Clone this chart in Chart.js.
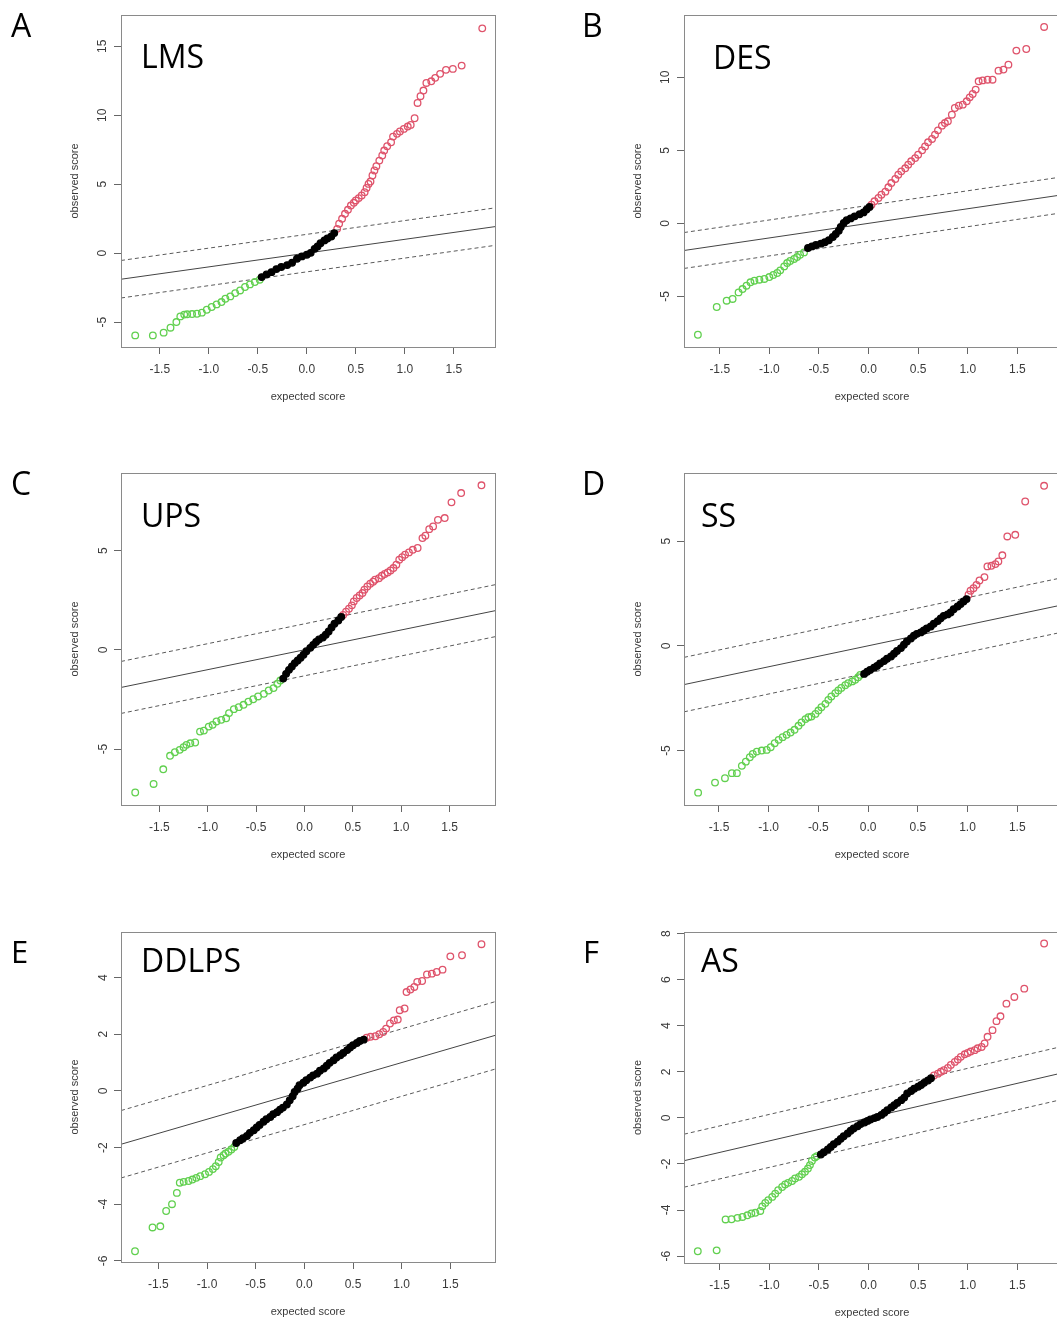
<!DOCTYPE html>
<html>
<head>
<meta charset="utf-8">
<script src="https://cdn.jsdelivr.net/npm/chart.js@4.4.1/dist/chart.umd.min.js"></script>
<style>
  html, body { margin: 0; padding: 0; background: #fff; overflow: hidden; width: 1057px; height: 1320px; }
  canvas { position: absolute; }
</style>
</head>
<body>
<canvas id="pA"></canvas>
<canvas id="pB"></canvas>
<canvas id="pC"></canvas>
<canvas id="pD"></canvas>
<canvas id="pE"></canvas>
<canvas id="pF"></canvas>
<script>
// SAM plots, observed vs expected score, one panel per sarcoma type
const xTicks = [-1.5, -1, -0.5, 0, 0.5, 1, 1.5];
const yTicksLMS = [-5, 0, 5, 10, 15];
const yTicksDES = [-5, 0, 5, 10];
const yTicksUPS = [-5, 0, 5];
const yTicksSS = [-5, 0, 5];
const yTicksDDLPS = [-6, -4, -2, 0, 2, 4];
const yTicksAS = [-6, -4, -2, 0, 2, 4, 6, 8];

// axis limits per panel: LMS, DES, UPS, SS, DDLPS, AS
const xMin = [-1.895, -1.86, -1.897, -1.852, -1.884, -1.859];
const xMax = [1.92, 1.93, 1.97, 1.93, 1.959, 1.93];
const yMin = [-6.81, -8.47, -7.82, -7.60, -6.04, -6.30];
const yMax = [17.27, 14.27, 8.91, 8.25, 5.61, 8.07];

// half width of the dashed band around y = x
const deltas = [1.36, 1.23, 1.31, 1.30, 1.19, 1.15];

const lmsGreen = [[-1.75,-5.97],[-1.57,-5.97],[-1.46,-5.77],[-1.39,-5.41],[-1.33,-5.00],[-1.29,-4.59],[-1.25,-4.46],[-1.22,-4.44],[-1.17,-4.42],[-1.12,-4.40],[-1.07,-4.32],[-1.02,-4.11],[-0.97,-3.91],[-0.92,-3.72],[-0.87,-3.55],[-0.83,-3.31],[-0.78,-3.14],[-0.73,-2.90],[-0.68,-2.71],[-0.63,-2.46],[-0.58,-2.27],[-0.53,-2.10],[-0.48,-1.93]];
const lmsBlack = [[-0.46,-1.74],[-0.41,-1.55],[-0.36,-1.38],[-0.31,-1.16],[-0.26,-1.01],[-0.20,-0.87],[-0.15,-0.70],[-0.10,-0.41],[-0.05,-0.24],[0.00,-0.12],[0.04,0.02],[0.08,0.31],[0.11,0.48],[0.14,0.72],[0.18,0.92],[0.21,1.06],[0.25,1.21],[0.28,1.45]];
const lmsRed = [[0.31,1.76],[0.33,2.13],[0.36,2.49],[0.39,2.85],[0.42,3.14],[0.45,3.45],[0.48,3.65],[0.50,3.82],[0.53,3.99],[0.56,4.18],[0.59,4.42],[0.61,4.73],[0.63,5.02],[0.65,5.19],[0.67,5.63],[0.69,5.99],[0.71,6.30],[0.74,6.71],[0.77,7.08],[0.79,7.44],[0.82,7.75],[0.86,8.04],[0.88,8.45],[0.92,8.65],[0.95,8.82],[0.99,9.01],[1.03,9.18],[1.06,9.30],[1.10,9.78],[1.13,10.89],[1.16,11.38],[1.19,11.79],[1.22,12.34],[1.27,12.46],[1.31,12.71],[1.36,13.00],[1.42,13.29],[1.49,13.36],[1.58,13.60],[1.79,16.30]];

const desGreen = [[-1.72,-7.63],[-1.53,-5.73],[-1.43,-5.30],[-1.37,-5.18],[-1.31,-4.73],[-1.27,-4.50],[-1.23,-4.27],[-1.19,-4.04],[-1.15,-3.93],[-1.10,-3.86],[-1.05,-3.81],[-1.00,-3.68],[-0.96,-3.54],[-0.92,-3.40],[-0.89,-3.22],[-0.85,-2.95],[-0.82,-2.72],[-0.79,-2.58],[-0.75,-2.44],[-0.72,-2.31],[-0.69,-2.15],[-0.65,-1.99]];
const desBlack = [[-0.61,-1.69],[-0.57,-1.58],[-0.53,-1.48],[-0.48,-1.39],[-0.44,-1.30],[-0.40,-1.16],[-0.36,-0.94],[-0.33,-0.73],[-0.30,-0.50],[-0.28,-0.25],[-0.25,0.02],[-0.22,0.21],[-0.18,0.34],[-0.14,0.48],[-0.09,0.62],[-0.05,0.75],[-0.02,0.94],[0.01,1.12]];
const desRed = [[0.03,1.28],[0.06,1.51],[0.10,1.74],[0.13,1.96],[0.17,2.17],[0.20,2.47],[0.23,2.76],[0.27,3.04],[0.30,3.33],[0.33,3.56],[0.37,3.77],[0.40,4.02],[0.43,4.25],[0.47,4.47],[0.50,4.70],[0.54,5.00],[0.57,5.27],[0.60,5.55],[0.64,5.78],[0.67,6.07],[0.70,6.37],[0.74,6.69],[0.77,6.87],[0.80,6.99],[0.84,7.44],[0.87,7.90],[0.91,8.06],[0.95,8.13],[0.99,8.36],[1.02,8.63],[1.05,8.86],[1.08,9.16],[1.11,9.73],[1.15,9.79],[1.20,9.84],[1.25,9.84],[1.31,10.46],[1.36,10.53],[1.41,10.87],[1.49,11.83],[1.59,11.94],[1.77,13.45]];

const upsGreen = [[-1.75,-7.19],[-1.56,-6.76],[-1.46,-6.02],[-1.39,-5.34],[-1.34,-5.16],[-1.29,-5.04],[-1.25,-4.91],[-1.22,-4.79],[-1.18,-4.71],[-1.13,-4.67],[-1.08,-4.12],[-1.04,-4.07],[-0.99,-3.87],[-0.95,-3.78],[-0.91,-3.61],[-0.86,-3.53],[-0.81,-3.45],[-0.78,-3.19],[-0.73,-2.99],[-0.68,-2.89],[-0.63,-2.77],[-0.58,-2.61],[-0.53,-2.49],[-0.48,-2.35],[-0.42,-2.22],[-0.37,-2.05],[-0.32,-1.93],[-0.28,-1.71],[-0.25,-1.55]];
const upsBlack = [[-0.22,-1.45],[-0.19,-1.21],[-0.16,-1.01],[-0.13,-0.84],[-0.10,-0.67],[-0.07,-0.54],[-0.04,-0.40],[-0.01,-0.25],[0.02,-0.07],[0.06,0.10],[0.09,0.25],[0.12,0.40],[0.15,0.52],[0.19,0.62],[0.22,0.76],[0.25,0.92],[0.28,1.13],[0.31,1.31],[0.35,1.48],[0.38,1.65]];
const upsRed = [[0.40,1.76],[0.43,1.92],[0.46,2.07],[0.49,2.24],[0.51,2.44],[0.54,2.61],[0.57,2.74],[0.60,2.86],[0.62,3.03],[0.65,3.19],[0.68,3.33],[0.71,3.43],[0.73,3.53],[0.77,3.61],[0.80,3.73],[0.83,3.82],[0.86,3.90],[0.89,4.00],[0.92,4.12],[0.95,4.29],[0.98,4.54],[1.01,4.67],[1.04,4.79],[1.08,4.91],[1.12,5.04],[1.17,5.13],[1.22,5.63],[1.25,5.75],[1.29,6.08],[1.33,6.22],[1.38,6.55],[1.45,6.64],[1.52,7.43],[1.62,7.90],[1.83,8.29]];

const ssGreen = [[-1.71,-7.01],[-1.54,-6.53],[-1.44,-6.32],[-1.37,-6.08],[-1.32,-6.08],[-1.27,-5.73],[-1.23,-5.53],[-1.19,-5.32],[-1.16,-5.16],[-1.12,-5.05],[-1.07,-5.00],[-1.02,-4.97],[-0.98,-4.84],[-0.94,-4.65],[-0.90,-4.49],[-0.86,-4.36],[-0.82,-4.25],[-0.78,-4.14],[-0.74,-4.01],[-0.70,-3.82],[-0.67,-3.66],[-0.63,-3.50],[-0.60,-3.41],[-0.57,-3.38],[-0.53,-3.25],[-0.50,-3.09],[-0.47,-2.93],[-0.43,-2.77],[-0.40,-2.58],[-0.37,-2.42],[-0.33,-2.26],[-0.30,-2.13],[-0.27,-2.01],[-0.23,-1.88],[-0.20,-1.78],[-0.16,-1.70],[-0.13,-1.62],[-0.10,-1.50],[-0.08,-1.39]];
const ssBlack = [[-0.04,-1.34],[-0.01,-1.24],[0.02,-1.15],[0.06,-1.05],[0.09,-0.96],[0.12,-0.84],[0.16,-0.73],[0.19,-0.62],[0.23,-0.51],[0.26,-0.38],[0.29,-0.25],[0.33,-0.11],[0.36,0.05],[0.39,0.21],[0.43,0.35],[0.46,0.48],[0.49,0.57],[0.53,0.64],[0.56,0.73],[0.59,0.83],[0.63,0.92],[0.66,1.05],[0.70,1.18],[0.73,1.31],[0.76,1.43],[0.80,1.50],[0.83,1.59],[0.86,1.75],[0.90,1.88],[0.93,1.99],[0.96,2.12],[0.99,2.23]];
const ssRed = [[1.01,2.44],[1.03,2.63],[1.06,2.75],[1.09,2.91],[1.12,3.12],[1.17,3.28],[1.20,3.79],[1.24,3.82],[1.28,3.90],[1.31,4.03],[1.35,4.32],[1.40,5.22],[1.48,5.30],[1.58,6.89],[1.77,7.64]];

const ddlpsGreen = [[-1.74,-5.66],[-1.56,-4.82],[-1.48,-4.78],[-1.42,-4.24],[-1.36,-4.00],[-1.31,-3.60],[-1.28,-3.24],[-1.24,-3.21],[-1.19,-3.18],[-1.15,-3.13],[-1.11,-3.07],[-1.07,-3.01],[-1.02,-2.94],[-0.98,-2.86],[-0.94,-2.76],[-0.91,-2.66],[-0.88,-2.51],[-0.86,-2.35],[-0.83,-2.27],[-0.81,-2.21],[-0.78,-2.15],[-0.75,-2.07],[-0.72,-1.98]];
const ddlpsBlack = [[-0.70,-1.84],[-0.66,-1.74],[-0.63,-1.67],[-0.59,-1.59],[-0.56,-1.48],[-0.52,-1.39],[-0.49,-1.29],[-0.46,-1.20],[-0.42,-1.09],[-0.39,-1.00],[-0.35,-0.92],[-0.32,-0.82],[-0.28,-0.75],[-0.25,-0.66],[-0.22,-0.59],[-0.18,-0.48],[-0.15,-0.33],[-0.12,-0.19],[-0.10,-0.04],[-0.07,0.08],[-0.05,0.20],[-0.01,0.29],[0.02,0.38],[0.06,0.47],[0.09,0.55],[0.13,0.61],[0.16,0.71],[0.20,0.79],[0.23,0.89],[0.26,0.99],[0.30,1.08],[0.33,1.18],[0.37,1.26],[0.40,1.34],[0.44,1.44],[0.47,1.53],[0.50,1.61],[0.54,1.69],[0.57,1.76],[0.61,1.81]];
const ddlpsRed = [[0.64,1.88],[0.68,1.91],[0.73,1.93],[0.77,2.00],[0.81,2.08],[0.84,2.20],[0.88,2.38],[0.92,2.49],[0.96,2.52],[0.98,2.85],[1.03,2.91],[1.05,3.49],[1.09,3.58],[1.13,3.67],[1.16,3.85],[1.21,3.88],[1.26,4.11],[1.31,4.14],[1.36,4.20],[1.42,4.28],[1.50,4.75],[1.62,4.79],[1.82,5.18]];

const asGreen = [[-1.72,-5.79],[-1.53,-5.75],[-1.44,-4.41],[-1.38,-4.40],[-1.32,-4.34],[-1.27,-4.30],[-1.22,-4.23],[-1.18,-4.15],[-1.14,-4.12],[-1.09,-4.04],[-1.07,-3.84],[-1.04,-3.69],[-1.01,-3.57],[-0.97,-3.43],[-0.94,-3.29],[-0.91,-3.14],[-0.87,-3.00],[-0.84,-2.89],[-0.81,-2.82],[-0.77,-2.74],[-0.74,-2.63],[-0.70,-2.56],[-0.67,-2.45],[-0.64,-2.34],[-0.61,-2.20],[-0.59,-2.05],[-0.57,-1.87],[-0.54,-1.72],[-0.52,-1.66]];
const asBlack = [[-0.48,-1.59],[-0.45,-1.49],[-0.41,-1.37],[-0.38,-1.26],[-0.35,-1.14],[-0.31,-1.03],[-0.28,-0.91],[-0.25,-0.80],[-0.21,-0.68],[-0.18,-0.56],[-0.15,-0.46],[-0.11,-0.36],[-0.08,-0.27],[-0.04,-0.20],[-0.01,-0.13],[0.02,-0.07],[0.06,-0.01],[0.09,0.04],[0.13,0.13],[0.16,0.22],[0.19,0.33],[0.23,0.45],[0.26,0.55],[0.29,0.65],[0.33,0.77],[0.36,0.88],[0.39,1.06],[0.43,1.17],[0.46,1.27],[0.50,1.35],[0.53,1.43],[0.56,1.52],[0.60,1.62],[0.63,1.72]];
const asRed = [[0.66,1.84],[0.70,1.92],[0.73,2.00],[0.76,2.07],[0.80,2.17],[0.83,2.30],[0.87,2.43],[0.90,2.53],[0.93,2.65],[0.97,2.76],[1.00,2.82],[1.03,2.88],[1.07,2.94],[1.10,3.02],[1.14,3.08],[1.17,3.23],[1.20,3.52],[1.25,3.81],[1.29,4.20],[1.33,4.41],[1.39,4.96],[1.47,5.25],[1.57,5.61],[1.77,7.57]];

const GREEN = "#61D04F";
const RED = "#DF536B";
const TICK_FONT = { family: "'Liberation Sans', Arial, sans-serif", size: 12 };
const TITLE_FONT = { family: "'Liberation Sans', Arial, sans-serif", size: 11 };
const LABEL_FAMILY = "'Open Sans', 'Noto Sans', sans-serif";

// layout: box = [left, top, width, height] of the plot frame on the page
const panels = [
  { id: "pA", letter: "A", name: "LMS", green: lmsGreen, black: lmsBlack, red: lmsRed, yTicks: yTicksLMS,
    box: [121, 15, 374, 332], left: 0, letterAt: [11, 36.5, 32], nameAt: [141, 67.5] },
  { id: "pB", letter: "B", name: "DES", green: desGreen, black: desBlack, red: desRed, yTicks: yTicksDES,
    box: [684, 15, 376, 332], left: 570, letterAt: [582, 36.7, 32], nameAt: [713, 68.5] },
  { id: "pC", letter: "C", name: "UPS", green: upsGreen, black: upsBlack, red: upsRed, yTicks: yTicksUPS,
    box: [121, 473, 374, 332], left: 0, letterAt: [11, 495, 32], nameAt: [141, 527] },
  { id: "pD", letter: "D", name: "SS", green: ssGreen, black: ssBlack, red: ssRed, yTicks: yTicksSS,
    box: [684, 473, 376, 332], left: 570, letterAt: [582, 495, 32], nameAt: [701, 527] },
  { id: "pE", letter: "E", name: "DDLPS", green: ddlpsGreen, black: ddlpsBlack, red: ddlpsRed, yTicks: yTicksDDLPS,
    box: [121, 932, 374, 330], left: 0, letterAt: [11, 963, 31], nameAt: [141, 972] },
  { id: "pF", letter: "F", name: "AS", green: asGreen, black: asBlack, red: asRed, yTicks: yTicksAS,
    box: [684, 932, 376, 331], left: 570, letterAt: [583, 963, 31], nameAt: [701, 972] },
];

const PAD_TOP = 16, PAD_RIGHT = 8, AXIS_W = 60, AXIS_H = 60;

const toXY = arr => arr.map(([x, y]) => ({ x, y }));

function pointSet(arr, color, fill) {
  return {
    data: toXY(arr),
    borderColor: color,
    backgroundColor: fill,
    pointRadius: 3.3,
    pointBorderWidth: 1.3,
    showLine: false,
    order: 0,
  };
}

function refLine(x0, x1, off, dashed) {
  return {
    data: [{ x: x0, y: x0 + off }, { x: x1, y: x1 + off }],
    showLine: true,
    pointRadius: 0,
    borderColor: dashed ? "#5a5a5a" : "#444",
    borderWidth: 1,
    borderDash: dashed ? [4, 3] : [],
    order: 1,
  };
}

const framePlugin = {
  id: "frame",
  afterDraw(chart, args, opts) {
    const { ctx, chartArea: a } = chart;
    ctx.save();
    ctx.strokeStyle = "#8a8a8a";
    ctx.lineWidth = 1;
    ctx.strokeRect(Math.round(a.left) + 0.5, Math.round(a.top) + 0.5,
      Math.round(a.right - a.left), Math.round(a.bottom - a.top));
    ctx.fillStyle = "#000";
    ctx.textBaseline = "alphabetic";
    ctx.textAlign = "left";
    const [lx, ly, ls] = opts.letterAt;
    ctx.font = ls + "px " + LABEL_FAMILY;
    ctx.fillText(opts.letter, lx - opts.left, ly - opts.top);
    const [nx, ny] = opts.nameAt;
    ctx.font = "32px " + LABEL_FAMILY;
    ctx.fillText(opts.name, nx - opts.left, ny - opts.top);
    ctx.restore();
  },
};

function makePanel(p, i) {
  const canvas = document.getElementById(p.id);
  const [L, T, W, H] = p.box;
  const top = T - PAD_TOP;
  const cw = L - p.left + W + PAD_RIGHT;
  const ch = PAD_TOP + H + AXIS_H;
  canvas.width = cw;
  canvas.height = ch;
  canvas.style.left = p.left + "px";
  canvas.style.top = top + "px";
  canvas.style.width = cw + "px";
  canvas.style.height = ch + "px";

  const x0 = xMin[i], x1 = xMax[i], d = deltas[i];

  new Chart(canvas, {
    type: "scatter",
    data: {
      datasets: [
        pointSet(p.black, "#000", "#000"),
        pointSet(p.green, GREEN, "rgba(0,0,0,0)"),
        pointSet(p.red, RED, "rgba(0,0,0,0)"),
        refLine(x0, x1, 0, false),
        refLine(x0, x1, d, true),
        refLine(x0, x1, -d, true),
      ],
    },
    options: {
      responsive: false,
      animation: false,
      devicePixelRatio: 1,
      events: [],
      layout: { padding: { left: L - p.left - AXIS_W, top: PAD_TOP, right: PAD_RIGHT, bottom: 0 } },
      plugins: {
        legend: { display: false },
        tooltip: { enabled: false },
        frame: { letter: p.letter, name: p.name, letterAt: p.letterAt, nameAt: p.nameAt, left: p.left, top },
      },
      scales: {
        x: {
          type: "linear",
          min: x0,
          max: x1,
          afterBuildTicks: s => { s.ticks = xTicks.map(v => ({ value: v })); },
          afterFit: s => { s.height = AXIS_H; },
          border: { display: false },
          grid: { drawOnChartArea: false, drawTicks: true, tickLength: 7, tickColor: "#666", tickWidth: 1 },
          ticks: { font: TICK_FONT, color: "#3a3a3a", padding: 8, maxRotation: 0, callback: v => v.toFixed(1) },
          title: { display: true, text: "expected score", font: TITLE_FONT, color: "#3a3a3a", padding: { top: 0, bottom: 3 } },
        },
        y: {
          type: "linear",
          min: yMin[i],
          max: yMax[i],
          afterBuildTicks: s => { s.ticks = p.yTicks.map(v => ({ value: v })); },
          afterFit: s => { s.width = AXIS_W; },
          border: { display: false },
          grid: { drawOnChartArea: false, drawTicks: true, tickLength: 7, tickColor: "#666", tickWidth: 1 },
          ticks: { font: TICK_FONT, color: "#3a3a3a", padding: 5, minRotation: 90, maxRotation: 90, crossAlign: "center", callback: v => String(v) },
          title: { display: true, text: "observed score", font: TITLE_FONT, color: "#3a3a3a", padding: { top: 7, bottom: 0 } },
        },
      },
    },
    plugins: [framePlugin],
  });
}

panels.forEach(makePanel);
</script>
</body>
</html>
